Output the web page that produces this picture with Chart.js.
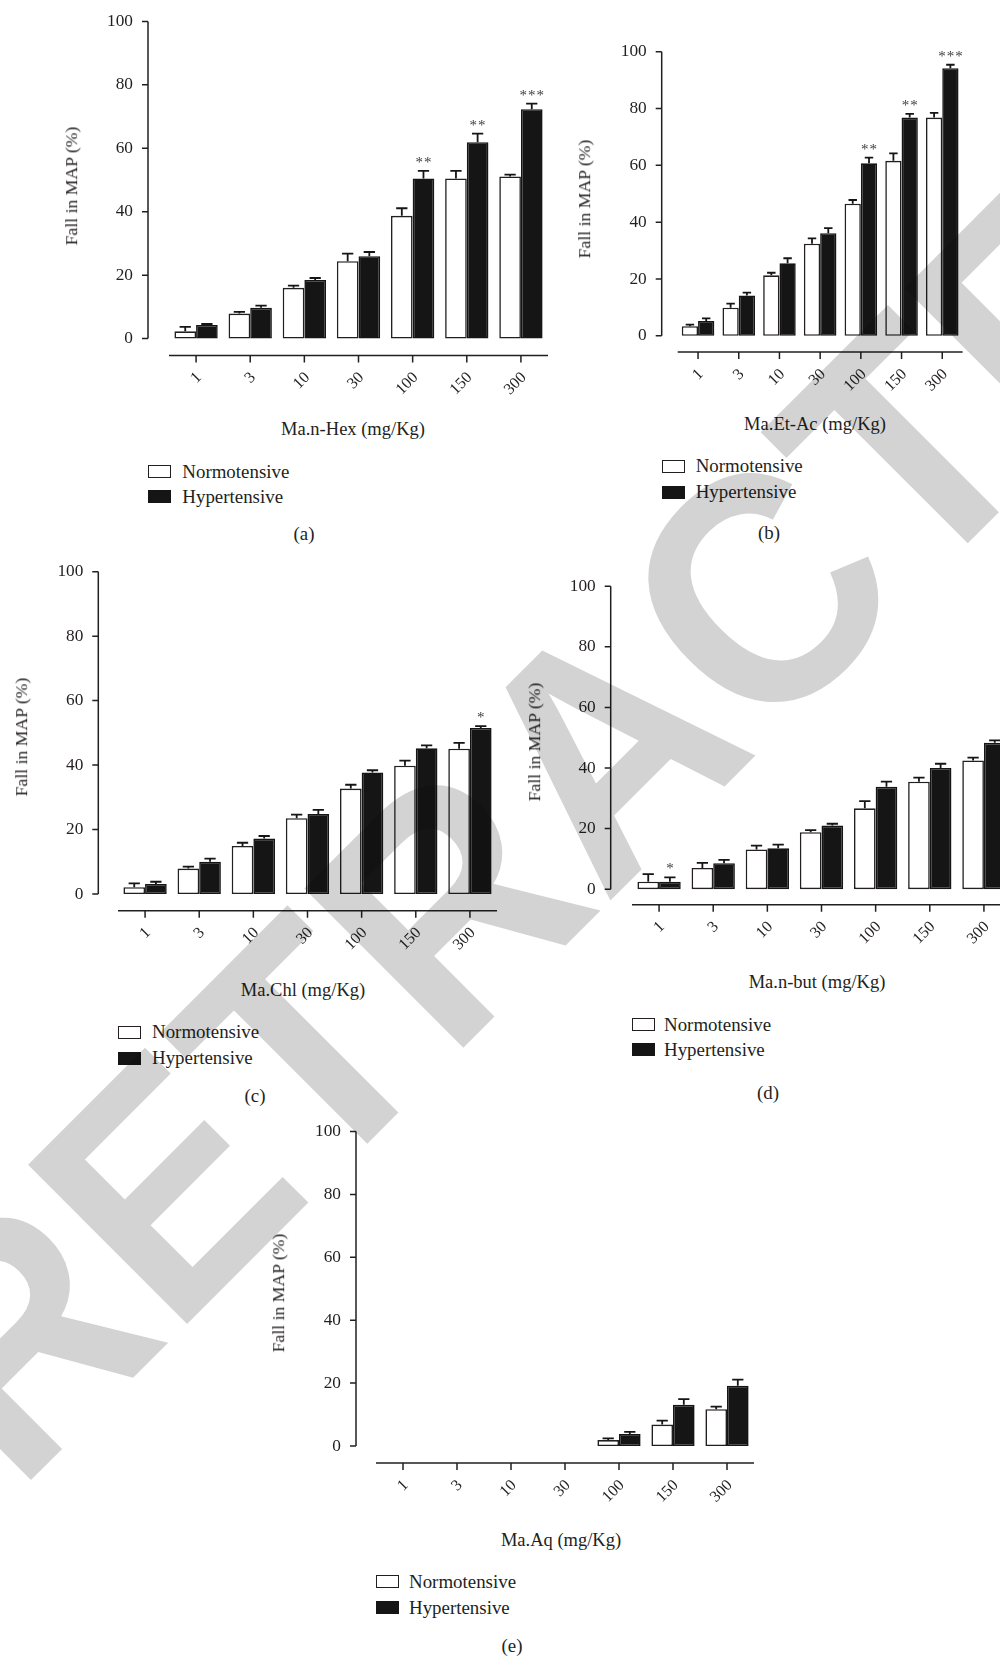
<!DOCTYPE html>
<html>
<head>
<meta charset="utf-8">
<script src="https://cdn.jsdelivr.net/npm/chart.js@4.4.1/dist/chart.umd.min.js"></script>
<style>
  html, body { margin: 0; padding: 0; background: #fff; width: 1000px; height: 1657px; overflow: hidden; }
  #page { position: relative; width: 1000px; height: 1657px; overflow: hidden; background: #fff;
          font-family: "Liberation Serif", "Times New Roman", serif; color: #231f20; }
  .cv { position: absolute; }
  .txt { position: absolute; white-space: nowrap; line-height: 1; }
  .swatch { position: absolute; box-sizing: border-box; width: 23px; height: 13px; }
  #wm { position: absolute; left: 0; top: 0; mix-blend-mode: multiply; pointer-events: none; }
</style>
</head>
<body>
<div id="page"></div>
<script>
// Dose categories and y ticks shared by every panel
const doses = ['1', '3', '10', '30', '100', '150', '300'];
const yTicks = [0, 20, 40, 60, 80, 100];
const seriesNames = ['Normotensive', 'Hypertensive'];

// (a) Ma.n-Hex: mean fall in MAP (%) and SEM
const hexNormo    = [2.3, 7.9, 16.0, 24.4, 38.7, 50.5, 51.1];
const hexNormoSem = [1.4, 0.5, 0.7, 2.4, 2.4, 2.4, 0.6];
const hexHyper    = [4.3, 9.7, 18.5, 26.0, 50.5, 61.9, 72.3];
const hexHyperSem = [0.3, 0.7, 0.6, 1.3, 2.4, 2.7, 1.8];
const hexStars    = ['', '', '', '', '**', '**', '***'];

// (b) Ma.Et-Ac
const etacNormo    = [3.4, 9.9, 21.3, 32.4, 46.5, 61.6, 76.8];
const etacNormoSem = [0.5, 1.4, 0.9, 1.9, 1.3, 2.6, 1.7];
const etacHyper    = [5.2, 14.2, 25.5, 36.1, 60.7, 76.8, 94.2];
const etacHyperSem = [0.9, 1.0, 1.8, 1.8, 2.0, 1.3, 1.2];
const etacStars    = ['', '', '', '', '**', '**', '***'];

// (c) Ma.Chl
const chlNormo    = [2.1, 7.9, 14.9, 23.5, 32.7, 39.8, 45.1];
const chlNormoSem = [1.2, 0.6, 1.0, 1.1, 1.2, 1.6, 1.8];
const chlHyper    = [3.1, 10.0, 17.2, 24.8, 37.7, 45.2, 51.5];
const chlHyperSem = [0.7, 1.0, 0.8, 1.3, 0.7, 0.9, 0.6];
const chlStars    = ['', '', '', '', '', '', '*'];

// (d) Ma.n-but
const butNormo    = [2.5, 7.0, 13.1, 18.8, 26.7, 35.5, 42.5];
const butNormoSem = [2.5, 1.7, 1.3, 0.7, 2.4, 1.3, 0.9];
const butHyper    = [2.5, 8.6, 13.5, 21.0, 33.8, 40.0, 48.3];
const butHyperSem = [1.4, 1.1, 1.2, 0.6, 1.7, 1.4, 0.8];
const butStars    = ['*', '', '', '', '', '', ''];

// (e) Ma.Aq (no response recorded at the four lowest doses)
const aqNormo    = [null, null, null, null, 1.9, 6.8, 11.7];
const aqNormoSem = [0, 0, 0, 0, 0.5, 1.3, 0.8];
const aqHyper    = [null, null, null, null, 3.8, 13.1, 19.2];
const aqHyperSem = [0, 0, 0, 0, 0.7, 1.8, 1.9];
const aqStars    = ['', '', '', '', '', '', ''];

const INK = '#231f20';
const BAR_DARK = '#151515';
const FONT = '"Liberation Serif", "Times New Roman", serif';
const SIZE_YTICK = 17.3, SIZE_XTICK = 16, SIZE_YTITLE = 17.7, SIZE_XTITLE = 18.5, SIZE_LEGEND = 18.9;

// Page layout of each panel (page pixels)
const panels = [
  { tag: '(a)', xTitle: 'Ma.n-Hex (mg/Kg)',
    normo: hexNormo, normoSem: hexNormoSem, hyper: hexHyper, hyperSem: hexHyperSem, stars: hexStars,
    box: { axisX: 148, y100: 21.4, y0: 338.6, xLineY: 355.4, catLeft: 169, catRight: 548 },
    yTitle: [72, 186], xTitlePos: [353, 428.6], legend: [148.3, 471.7, 496.7, 182.3], tagPos: [304, 534] },
  { tag: '(b)', xTitle: 'Ma.Et-Ac (mg/Kg)',
    normo: etacNormo, normoSem: etacNormoSem, hyper: etacHyper, hyperSem: etacHyperSem, stars: etacStars,
    box: { axisX: 661.7, y100: 51.7, y0: 335.8, xLineY: 352, catLeft: 677.7, catRight: 962.6 },
    yTitle: [585, 198.7], xTitlePos: [815, 424.3], legend: [662.3, 466, 492.3, 695.7], tagPos: [769, 533.3] },
  { tag: '(c)', xTitle: 'Ma.Chl (mg/Kg)',
    normo: chlNormo, normoSem: chlNormoSem, hyper: chlHyper, hyperSem: chlHyperSem, stars: chlStars,
    box: { axisX: 98.3, y100: 571.7, y0: 894, xLineY: 910.7, catLeft: 118, catRight: 497 },
    yTitle: [22, 737], xTitlePos: [303, 990], legend: [118, 1032, 1058, 152], tagPos: [255, 1096] },
  { tag: '(d)', xTitle: 'Ma.n-but (mg/Kg)',
    normo: butNormo, normoSem: butNormoSem, hyper: butHyper, hyperSem: butHyperSem, stars: butStars,
    box: { axisX: 610.7, y100: 586.2, y0: 889.2, xLineY: 904.7, catLeft: 632, catRight: 1011 },
    yTitle: [535, 742.2], xTitlePos: [817, 981.5], legend: [632, 1024.5, 1049.7, 664], tagPos: [768, 1093.4] },
  { tag: '(e)', xTitle: 'Ma.Aq (mg/Kg)',
    normo: aqNormo, normoSem: aqNormoSem, hyper: aqHyper, hyperSem: aqHyperSem, stars: aqStars,
    box: { axisX: 356, y100: 1131.6, y0: 1446, xLineY: 1463.1, catLeft: 376, catRight: 754 },
    yTitle: [279, 1293.2], xTitlePos: [561, 1539.9], legend: [376, 1581.7, 1607.9, 409], tagPos: [512, 1645.6] }
];

const page = document.getElementById('page');

function addText(str, x, y, size, mode) {
  const el = document.createElement('div');
  el.className = 'txt';
  el.textContent = str;
  el.style.fontSize = size + 'px';
  el.style.left = x + 'px';
  el.style.top = y + 'px';
  if (mode === 'center') el.style.transform = 'translate(-50%, -50%)';
  else if (mode === 'vertical') el.style.transform = 'translate(-50%, -50%) rotate(-90deg)';
  else el.style.transform = 'translateY(-50%)';
  page.appendChild(el);
  return el;
}

function addSwatch(x, cy, filled) {
  const el = document.createElement('div');
  el.className = 'swatch';
  el.style.left = x + 'px';
  el.style.top = (cy - 6.5) + 'px';
  el.style.border = '1.5px solid ' + (filled ? BAR_DARK : INK);
  el.style.background = filled ? BAR_DARK : '#fff';
  page.appendChild(el);
}

// Offset axes, SEM caps and significance marks
const decorations = {
  id: 'decorations',
  afterDatasetsDraw(chart, args, opts) {
    const { ctx, chartArea: a, scales: { x, y } } = chart;
    ctx.save();
    ctx.strokeStyle = INK;
    ctx.lineWidth = 1.5;
    ctx.beginPath();
    const ax = opts.axisX;
    ctx.moveTo(ax, y.getPixelForValue(0));
    ctx.lineTo(ax, y.getPixelForValue(100));
    yTicks.forEach(v => {
      const py = y.getPixelForValue(v);
      ctx.moveTo(ax - 6, py);
      ctx.lineTo(ax, py);
    });
    ctx.moveTo(a.left, a.bottom);
    ctx.lineTo(a.right, a.bottom);
    doses.forEach((d, i) => {
      const px = x.getPixelForValue(i);
      ctx.moveTo(px, a.bottom);
      ctx.lineTo(px, a.bottom + 7);
    });
    ctx.stroke();

    ctx.lineWidth = 1.8;
    ctx.strokeStyle = BAR_DARK;
    chart.data.datasets.forEach((ds, di) => {
      const meta = chart.getDatasetMeta(di);
      meta.data.forEach((bar, i) => {
        const v = ds.data[i];
        if (v == null) return;
        const top = y.getPixelForValue(v + ds.sem[i]);
        const half = bar.width * 0.26;
        ctx.beginPath();
        ctx.moveTo(bar.x, bar.y);
        ctx.lineTo(bar.x, top);
        ctx.moveTo(bar.x - half, top);
        ctx.lineTo(bar.x + half, top);
        ctx.stroke();
        if (di === 1 && opts.stars[i]) {
          const n = opts.stars[i].length;
          ctx.fillStyle = '#3c3c3c';
          ctx.font = '15px ' + FONT;
          ctx.textAlign = 'center';
          ctx.textBaseline = 'alphabetic';
          for (let k = 0; k < n; k++) {
            ctx.fillText('*', bar.x + (k - (n - 1) / 2) * 8.5, top - 4);
          }
        }
      });
    });
    ctx.restore();
  }
};

panels.forEach(p => {
  const b = p.box;
  const cl = Math.floor(b.axisX - 75), ct = Math.floor(b.y100 - 25);
  const cw = Math.round(b.catRight + 12 - cl), ch = Math.round(b.xLineY + 60 - ct);
  const wrap = document.createElement('div');
  wrap.className = 'cv';
  wrap.style.left = cl + 'px';
  wrap.style.top = ct + 'px';
  const canvas = document.createElement('canvas');
  canvas.width = cw; canvas.height = ch;
  canvas.style.width = cw + 'px'; canvas.style.height = ch + 'px';
  wrap.appendChild(canvas);
  page.appendChild(wrap);

  const areaLeft = b.catLeft - cl, areaTop = b.y100 - ct;
  const areaBottom = b.xLineY - ct, areaRight = b.catRight - cl;
  const unit = (b.y0 - b.y100) / 100;
  const yMin = -(b.xLineY - b.y0) / unit;

  new Chart(canvas, {
    type: 'bar',
    data: {
      labels: doses,
      datasets: [
        { label: seriesNames[0], data: p.normo, sem: p.normoSem, backgroundColor: '#ffffff',
          borderColor: INK, borderWidth: 1.6, borderSkipped: false },
        { label: seriesNames[1], data: p.hyper, sem: p.hyperSem, backgroundColor: BAR_DARK,
          borderColor: BAR_DARK, borderWidth: 1.6, borderSkipped: false }
      ]
    },
    options: {
      responsive: false,
      animation: false,
      devicePixelRatio: 1,
      datasets: { bar: { categoryPercentage: 0.8, barPercentage: 1.0 } },
      layout: { padding: { left: 0, top: areaTop, right: cw - areaRight, bottom: 0 } },
      plugins: {
        legend: { display: false },
        tooltip: { enabled: false },
        decorations: { axisX: b.axisX - cl, stars: p.stars }
      },
      scales: {
        x: {
          type: 'category', offset: true,
          grid: { display: false, drawTicks: false },
          border: { display: false },
          ticks: { color: INK, font: { family: FONT, size: SIZE_XTICK }, minRotation: 45, maxRotation: 45,
                   autoSkip: false, padding: 13, labelOffset: 3 },
          afterFit(s) { s.height = ch - areaBottom; s.paddingLeft = 0; s.paddingRight = 0; }
        },
        y: {
          min: yMin, max: 100,
          grid: { display: false, drawTicks: false },
          border: { display: false },
          ticks: { color: INK, font: { family: FONT, size: SIZE_YTICK }, padding: b.catLeft - b.axisX + 15 },
          afterBuildTicks(s) { s.ticks = yTicks.map(v => ({ value: v })); },
          afterFit(s) { s.width = areaLeft; s.paddingTop = 0; s.paddingBottom = 0; }
        }
      }
    },
    plugins: [decorations]
  });

  addText('Fall in MAP (%)', p.yTitle[0], p.yTitle[1], SIZE_YTITLE, 'vertical');
  addText(p.xTitle, p.xTitlePos[0], p.xTitlePos[1], SIZE_XTITLE, 'center');
  addSwatch(p.legend[0], p.legend[1], false);
  addSwatch(p.legend[0], p.legend[2], true);
  addText(seriesNames[0], p.legend[3], p.legend[1], SIZE_LEGEND, 'left');
  addText(seriesNames[1], p.legend[3], p.legend[2], SIZE_LEGEND, 'left');
  addText(p.tag, p.tagPos[0], p.tagPos[1], SIZE_LEGEND, 'center');
});

// Retraction stamp across the whole figure
const NS = 'http://www.w3.org/2000/svg';
const svg = document.createElementNS(NS, 'svg');
svg.setAttribute('id', 'wm');
svg.setAttribute('width', '1000');
svg.setAttribute('height', '1657');
const stamp = document.createElementNS(NS, 'text');
stamp.setAttribute('x', '0');
stamp.setAttribute('y', '0');
stamp.setAttribute('transform', 'translate(16.5 1494.5) rotate(-45) scale(0.935 1)');
stamp.setAttribute('font-family', '"Liberation Sans", Arial, sans-serif');
stamp.setAttribute('font-weight', 'bold');
stamp.setAttribute('font-size', '327');
stamp.setAttribute('fill', '#d3d3d3');
stamp.textContent = 'RETRACTED';
svg.appendChild(stamp);
page.appendChild(svg);
</script>
</body>
</html>
